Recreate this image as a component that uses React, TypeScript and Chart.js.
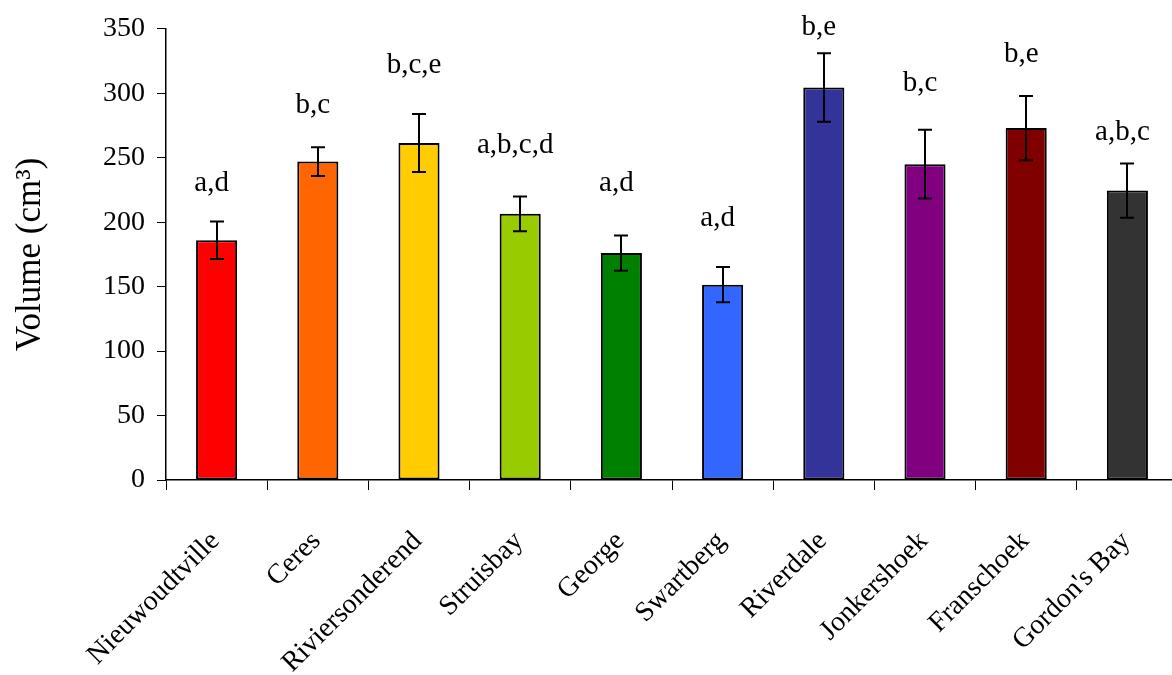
import React, { useEffect, useRef } from "react";
import { Chart, registerables } from "chart.js";

Chart.register(...registerables);

const categories = [
  "Nieuwoudtville",
  "Ceres",
  "Riviersonderend",
  "Struisbay",
  "George",
  "Swartberg",
  "Riverdale",
  "Jonkershoek",
  "Franschoek",
  "Gordon's Bay",
];
const volumes = [186, 247, 261.5, 206.5, 176, 151.5, 304.5, 245, 273, 224.5];
const errors = [14.6, 11.2, 22.5, 13.5, 13.7, 13.7, 26.6, 26.6, 24.9, 21];
const letters = ["a,d", "b,c", "b,c,e", "a,b,c,d", "a,d", "a,d", "b,e", "b,c", "b,e", "a,b,c"];
const letterLevels = [224, 285, 316, 254, 224, 197, 345.5, 302, 324.5, 263.5];
const barColors = [
  "#FF0000",
  "#FF6600",
  "#FFCC00",
  "#99CC00",
  "#008000",
  "#3366FF",
  "#333399",
  "#800080",
  "#800000",
  "#333333",
];
const yMin = 0;
const yMax = 350;
const yStep = 50;
const yTitle = "Volume (cm\u00B3)";

const FONT = '"Liberation Serif", "Times New Roman", serif';

export default function App() {
  const ref = useRef<HTMLCanvasElement | null>(null);

  useEffect(() => {
    const canvas = ref.current;
    if (!canvas) return;

    const errorBars = {
      id: "errorBars",
      afterDatasetsDraw(chart: any) {
        const ctx = chart.ctx;
        const ys = chart.scales.y;
        const meta = chart.getDatasetMeta(0);
        ctx.save();
        ctx.strokeStyle = "#000";
        ctx.lineWidth = 2;
        meta.data.forEach((bar: any, i: number) => {
          const x = Math.round(bar.x);
          const yt = ys.getPixelForValue(volumes[i] + errors[i]);
          const yb = ys.getPixelForValue(volumes[i] - errors[i]);
          ctx.beginPath();
          ctx.moveTo(x, yt);
          ctx.lineTo(x, yb);
          ctx.moveTo(x - 7, yt);
          ctx.lineTo(x + 7, yt);
          ctx.moveTo(x - 7, yb);
          ctx.lineTo(x + 7, yb);
          ctx.stroke();
        });
        ctx.restore();
      },
    };

    const textPlugin = {
      id: "texts",
      afterDraw(chart: any) {
        const ctx = chart.ctx;
        const ys = chart.scales.y;
        const xs = chart.scales.x;
        const meta = chart.getDatasetMeta(0);
        ctx.save();
        ctx.fillStyle = "#000";
        ctx.font = `29px ${FONT}`;
        ctx.textAlign = "center";
        ctx.textBaseline = "alphabetic";
        meta.data.forEach((bar: any, i: number) => {
          ctx.fillText(letters[i], bar.x - 5, ys.getPixelForValue(letterLevels[i]));
        });
        ctx.font = `28px ${FONT}`;
        ctx.textAlign = "right";
        categories.forEach((c, i) => {
          const x = xs.getPixelForValue(i);
          ctx.save();
          ctx.translate(x + 4, xs.bottom + 52);
          ctx.rotate(-Math.PI / 4);
          ctx.fillText(c, 0, 0);
          ctx.restore();
        });
        ctx.restore();
      },
    };

    const chart = new Chart(canvas, {
      type: "bar",
      data: {
        labels: categories,
        datasets: [
          {
            data: volumes,
            backgroundColor: barColors,
            borderColor: "#000",
            borderWidth: 2,
            borderSkipped: false,
            barPercentage: 0.406,
            categoryPercentage: 1,
          },
        ],
      },
      options: {
        responsive: false,
        animation: false,
        devicePixelRatio: 1,
        layout: { padding: { left: 0, top: 28, right: 0, bottom: 185 } },
        plugins: {
          legend: { display: false },
          tooltip: { enabled: false },
        },
        scales: {
          x: {
            offset: true,
            grid: {
              display: true,
              offset: true,
              drawOnChartArea: false,
              drawTicks: true,
              tickLength: 10,
              color: "#000",
              lineWidth: 1,
            },
            border: { display: true, color: "#000", width: 1.5 },
            ticks: { display: false },
            afterFit: (scale: any) => {
              scale.height = 10;
            },
          },
          y: {
            min: yMin,
            max: yMax,
            grid: {
              display: true,
              drawOnChartArea: false,
              drawTicks: true,
              tickLength: 9,
              color: "#000",
              lineWidth: 1,
            },
            border: { display: true, color: "#000", width: 1.5 },
            ticks: {
              stepSize: yStep,
              color: "#000",
              padding: 12,
              font: { family: FONT, size: 28 },
            },
            title: {
              display: true,
              text: yTitle,
              color: "#000",
              font: { family: FONT, size: 35 },
              padding: { top: 10, bottom: 0 },
            },
            afterFit: (scale: any) => {
              scale.width = 166;
            },
          },
        },
      },
      plugins: [errorBars, textPlugin],
    });

    return () => chart.destroy();
  }, []);

  return (
    <div
      style={{
        position: "fixed",
        left: 0,
        top: 0,
        width: 1172,
        height: 675,
        overflow: "hidden",
        background: "#fff",
      }}
    >
      <canvas
        ref={ref}
        width={1178}
        height={675}
        style={{ width: 1178, height: 675, display: "block" }}
      />
    </div>
  );
}
